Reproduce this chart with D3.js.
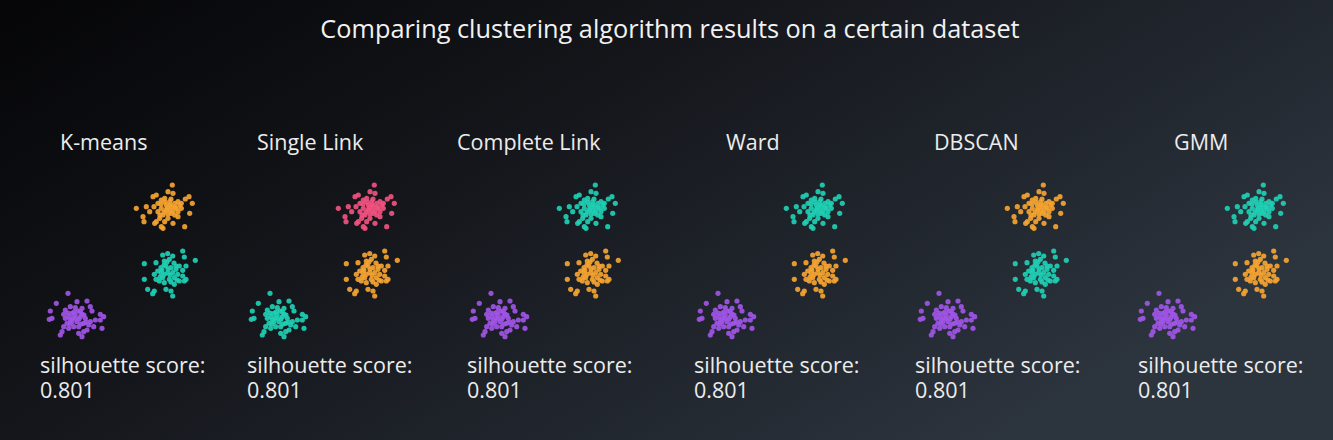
<!DOCTYPE html>
<html><head><meta charset="utf-8">
<script src="https://cdn.jsdelivr.net/npm/d3@7"></script>
<style>
html,body{margin:0;padding:0;background:#0b0c0f;}
svg{display:block;}
</style></head>
<body>
<svg id="chart" width="1333" height="440"></svg>
<script>
// ---------- data ----------
const chartTitle = "Comparing clustering algorithm results on a certain dataset";
const algorithms = ["K-means", "Single Link", "Complete Link", "Ward", "DBSCAN", "GMM"];
const scoreLabel = "silhouette score:";
const scores = ["0.801", "0.801", "0.801", "0.801", "0.801", "0.801"];

// cluster centres of the dataset (data units), blobs: A = lower-left, B = middle-right, C = upper-right
const blobCenters = [[0, 0], [91, 46], [90, 109]];

// point offsets from blob centre (data units, y up)
const blobA = [[-9,23.7],[-20.7,13.7],[0,15.3],[10,16],[-26.7,6],[-25,-1.3],[-27.7,-2.3],[-11.7,7],[-6.7,10.3],[-1.7,9.3],[5,8.7],[13.3,10.3],[15,6],[23.3,2.7],[26.7,0.3],[23.3,-3],[25,-11.3],[16.7,-9.7],[11.7,-8],[6.7,-6.3],[8.3,-1.3],[3.3,0.3],[-1.7,2],[-5,3.7],[-8.3,0.3],[-11.7,-1.3],[-10,-6.3],[-5,-4.7],[0,-4.7],[1.7,-9.7],[-3.3,-9.7],[-8.3,-11.3],[-13.3,-9.7],[-15,-14.7],[-16.7,-18],[1.7,-16.3],[5,-19.7],[6.7,-14.7],[10,-13],[13.3,-4.7],[18.3,-3],[-1.7,-1.3],[3.3,5.3],[-6.7,-3],[-13.3,2.7],[-3,5],[2,-2],[-7,-7],[5,3],[9,-5],[-4,-1],[1,6],[7,2],[-9,4],[4,-7]];
const blobB = [[14.7,20],[16.3,14],[27.3,10.7],[18,5],[-23.7,7.3],[-12,8.3],[-5.3,16],[-0.3,17.3],[4.7,15],[1.3,11.7],[-3.7,10],[-7,3.3],[-10.3,0],[-13.7,-3.3],[-12,-8.3],[-8.7,-10],[-3.7,-11.7],[1.3,-8.3],[6.3,-6.7],[9.7,-3.3],[8,1.7],[3,3.3],[-0.3,-1.7],[-3.7,-3.3],[11.3,-10],[14.7,-5],[16.3,-10],[18,-8.3],[11.3,5],[14.7,0.7],[-23.7,-8.3],[-20.3,-18.3],[-13.7,-20],[-15.3,-22.7],[-2,-18.3],[3,-20],[4.7,-25],[-7,-1.7],[4.7,-1.7],[-2,5],[6.3,-13.3],[-5.3,-6.7],[0,2],[-4,6],[2,-4],[-8,-6],[6,8],[9,-9],[-1,9],[3,-11],[-6,1],[8,5]];
const blobC = [[5.3,23],[22,11.3],[18.3,9],[25.3,4.7],[-30.7,-0.3],[-20.7,1.3],[-13,1.3],[-14,11.3],[-10.7,13],[1,16.3],[6,14.7],[-5.7,8],[-2.3,9.7],[2.7,6.3],[7.7,4.7],[12.7,3],[14.3,-0.3],[11,-3.7],[7.7,-7],[4.3,-5.3],[-0.7,-2],[-5.7,-0.3],[-9,-3.7],[-4,-7],[1,-10.3],[-7.3,-10.3],[-10.7,-13.7],[-12.3,-15.3],[-5.7,-18.7],[-4,-20.3],[6,-15.3],[11,-8.7],[22.7,-5.3],[17.7,-18.7],[-24,-8.7],[-23,-13.7],[-17.3,-3.7],[-9,4.7],[-0.7,3],[4.3,1.3],[9.3,-0.3],[-2.3,-13.7],[2.7,-2],[11,6.3],[14.3,4.7],[0,0],[3,3],[-3,-4],[6,-3],[-6,4],[8,1],[-2,6],[1,-6],[4,9],[-7,-7]];

// cluster label assigned to each blob [A, B, C] by each algorithm
const assignments = [
  ["purple", "teal",   "orange"], // K-means
  ["teal",   "orange", "pink"],   // Single Link
  ["purple", "orange", "teal"],   // Complete Link
  ["purple", "orange", "teal"],   // Ward
  ["purple", "teal",   "orange"], // DBSCAN
  ["purple", "orange", "teal"]    // GMM
];

// ---------- style / layout ----------
const colors = {purple: "#a055e6", teal: "#1fcfb4", orange: "#f5a431", pink: "#f0527f"};
const panelBlobX = [77, 279, 500, 727, 948, 1168];   // screen x of blob A centre per panel
const titleX = [60, 257, 457, 726, 934, 1174];
const scoreX = [40, 247, 467, 694, 915, 1138];
const blobAY = 317;
const fontFam = "'Open Sans', 'Noto Sans', sans-serif";

const svg = d3.select("#chart");
const W = 1333, H = 440;

const defs = svg.append("defs");
const grad = defs.append("linearGradient").attr("id", "bg")
  .attr("x1", "0").attr("y1", "0").attr("x2", "1").attr("y2", "0.55");
grad.append("stop").attr("offset", "0").attr("stop-color", "#050507");
grad.append("stop").attr("offset", "0.45").attr("stop-color", "#15171c");
grad.append("stop").attr("offset", "1").attr("stop-color", "#2c343e");
svg.append("rect").attr("width", W).attr("height", H).attr("fill", "url(#bg)");

svg.append("text")
  .attr("x", 670).attr("y", 38)
  .attr("text-anchor", "middle")
  .attr("fill", "#f2f2f2")
  .attr("font-family", fontFam)
  .attr("font-size", 25.3)
  .text(chartTitle);

const blobs = [blobA, blobB, blobC];

algorithms.forEach((alg, i) => {
  const x = d3.scaleLinear().domain([-40, 130]).range([panelBlobX[i] - 40, panelBlobX[i] + 130]);
  const y = d3.scaleLinear().domain([-40, 140]).range([blobAY + 40, blobAY - 140]);
  const g = svg.append("g");

  g.append("text")
    .attr("x", titleX[i]).attr("y", 150)
    .attr("fill", "#ececec")
    .attr("font-family", fontFam)
    .attr("font-size", 21.5)
    .text(alg);

  blobs.forEach((pts, b) => {
    const c = blobCenters[b];
    g.append("g").selectAll("circle")
      .data(pts)
      .join("circle")
      .attr("cx", d => x(c[0] + d[0]))
      .attr("cy", d => y(c[1] + d[1]))
      .attr("r", 2.6)
      .attr("fill", colors[assignments[i][b]])
      .attr("fill-opacity", 0.92);
  });

  const t = g.append("text")
    .attr("x", scoreX[i]).attr("y", 373)
    .attr("fill", "#ececec")
    .attr("font-family", fontFam)
    .attr("font-size", 21.5);
  t.append("tspan").attr("x", scoreX[i]).attr("y", 373).text(scoreLabel);
  t.append("tspan").attr("x", scoreX[i]).attr("y", 398).text(scores[i]);
});
</script>
</body></html>
